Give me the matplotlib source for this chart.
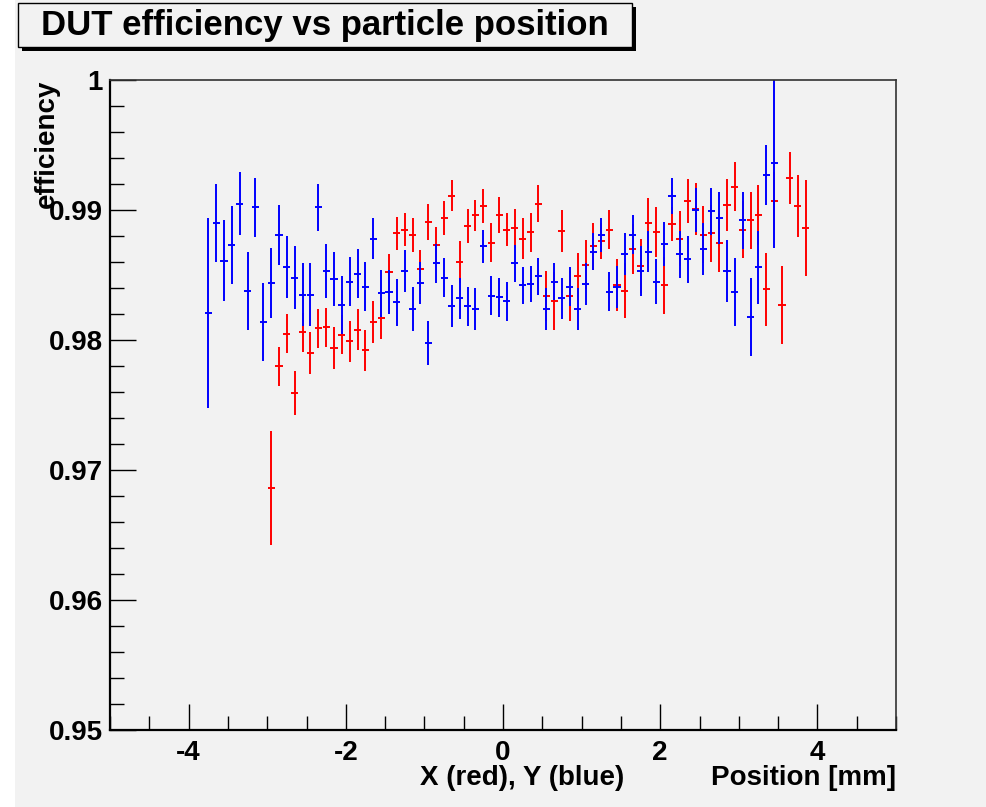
import numpy as np
import matplotlib
matplotlib.use("Agg")
from matplotlib import pyplot as plt
from matplotlib.patches import Rectangle
from matplotlib.ticker import MultipleLocator, FuncFormatter

# bin centres start (mm) and bin width
x_start_red = -2.95
x_start_blue = -3.75
bin_w = 0.1

# X (red) efficiency and errors
red_eff = [0.9686, 0.9780, 0.9805, 0.9759, 0.9806, 0.9790, 0.9809, 0.9810, 0.9794, 0.9804,
           0.9799, 0.9808, 0.9792, 0.9814, 0.9817, 0.9852, 0.9882, 0.9885, 0.9881, 0.9855,
           0.9891, 0.9873, 0.9894, 0.9911, 0.9860, 0.9888, 0.9896, 0.9903, 0.9875, 0.9896,
           0.9885, 0.9886, 0.9878, 0.9883, 0.9905, 0.9834, 0.9830, 0.9884, 0.9834, 0.9849,
           0.9858, 0.9872, 0.9876, 0.9885, 0.9842, 0.9838, 0.9870, 0.9857, 0.9890, 0.9883,
           0.9842, 0.9889, 0.9878, 0.9907, 0.9901, 0.9881, 0.9882, 0.9875, 0.9904, 0.9918,
           0.9885, 0.9892, 0.9896, 0.9839, 0.9907, 0.9827, 0.9925, 0.9903, 0.9886]
red_err = [0.0044, 0.0015, 0.0015, 0.0017, 0.0015, 0.0016, 0.0015, 0.0015, 0.0016, 0.0015,
           0.0016, 0.0016, 0.0016, 0.0016, 0.0016, 0.0014, 0.0013, 0.0013, 0.0013, 0.0014,
           0.0014, 0.0014, 0.0013, 0.0012, 0.0016, 0.0013, 0.0012, 0.0013, 0.0015, 0.0014,
           0.0013, 0.0015, 0.0016, 0.0015, 0.0014, 0.0019, 0.0022, 0.0016, 0.0019, 0.0018,
           0.0019, 0.0018, 0.0014, 0.0015, 0.0020, 0.0021, 0.0019, 0.0021, 0.0019, 0.0019,
           0.0022, 0.0013, 0.0021, 0.0017, 0.0020, 0.0022, 0.0022, 0.0023, 0.0020, 0.0019,
           0.0022, 0.0022, 0.0023, 0.0028, 0.0022, 0.0030, 0.0020, 0.0024, 0.0037]

# Y (blue) efficiency and errors
blue_eff = [0.9821, 0.9890, 0.9861, 0.9873, 0.9905, 0.9838, 0.9902, 0.9814, 0.9844, 0.9881,
            0.9856, 0.9848, 0.9835, 0.9835, 0.9902, 0.9853, 0.9847, 0.9827, 0.9845, 0.9851,
            0.9841, 0.9878, 0.9836, 0.9837, 0.9829, 0.9853, 0.9824, 0.9844, 0.9798, 0.9859,
            0.9848, 0.9826, 0.9832, 0.9826, 0.9824, 0.9872, 0.9834, 0.9833, 0.9830, 0.9859,
            0.9842, 0.9843, 0.9849, 0.9824, 0.9845, 0.9832, 0.9841, 0.9824, 0.9843, 0.9868,
            0.9881, 0.9837, 0.9841, 0.9866, 0.9881, 0.9853, 0.9868, 0.9845, 0.9874, 0.9911,
            0.9866, 0.9862, 0.9900, 0.9870, 0.9899, 0.9894, 0.9853, 0.9837, 0.9892, 0.9818,
            0.9856, 0.9927, 0.9936]
blue_err = [0.0073, 0.0030, 0.0031, 0.0030, 0.0024, 0.0030, 0.0023, 0.0030, 0.0027, 0.0023,
            0.0024, 0.0024, 0.0024, 0.0024, 0.0018, 0.0021, 0.0021, 0.0022, 0.0019, 0.0019,
            0.0019, 0.0016, 0.0018, 0.0017, 0.0018, 0.0016, 0.0017, 0.0016, 0.0017, 0.0015,
            0.0015, 0.0016, 0.0016, 0.0015, 0.0016, 0.0013, 0.0015, 0.0015, 0.0015, 0.0014,
            0.0014, 0.0014, 0.0014, 0.0016, 0.0014, 0.0016, 0.0015, 0.0016, 0.0016, 0.0014,
            0.0013, 0.0015, 0.0016, 0.0016, 0.0015, 0.0019, 0.0016, 0.0017, 0.0017, 0.0014,
            0.0018, 0.0018, 0.0017, 0.0020, 0.0018, 0.0020, 0.0024, 0.0026, 0.0022, 0.0030,
            0.0028, 0.0023, 0.0065]

x_red = x_start_red + bin_w * np.arange(len(red_eff))
x_blue = x_start_blue + bin_w * np.arange(len(blue_eff))

plt.rcParams['font.family'] = ['Liberation Sans', 'DejaVu Sans']
plt.rcParams['font.weight'] = 'bold'

W, H = 986, 807
bg = '#f2f2f2'
fig = plt.figure(figsize=(W / 100, H / 100), dpi=100, facecolor='white')
fig.patches.append(Rectangle((15 / W, 0), 1 - 15 / W, 1, transform=fig.transFigure,
                             facecolor=bg, edgecolor='none', zorder=0))

ax = fig.add_axes([110 / W, 1 - 730 / H, 786 / W, 650 / H])
ax.set_facecolor(bg)
ax.set_zorder(5)

ax.errorbar(x_red, red_eff, yerr=red_err, xerr=0.045, fmt='none', ecolor='#ff0000',
            elinewidth=1.4, capsize=0)
ax.errorbar(x_blue, blue_eff, yerr=blue_err, xerr=0.045, fmt='none', ecolor='#0000ff',
            elinewidth=1.4, capsize=0)

ax.set_xlim(-5, 5)
ax.set_ylim(0.95, 1.0)
ax.xaxis.set_major_locator(MultipleLocator(2))
ax.xaxis.set_minor_locator(MultipleLocator(0.5))
ax.yaxis.set_major_locator(MultipleLocator(0.01))
ax.yaxis.set_minor_locator(MultipleLocator(0.002))
fmt = FuncFormatter(lambda v, p: '%g' % round(v, 4))
ax.xaxis.set_major_formatter(fmt)
ax.yaxis.set_major_formatter(fmt)
ax.tick_params(which='major', direction='in', length=19, width=1, labelsize=20,
               top=False, right=False)
ax.tick_params(which='minor', direction='in', length=10, width=1, top=False, right=False)
ax.tick_params(axis='x', pad=7)
ax.tick_params(axis='y', pad=5)

for s in ['left', 'bottom']:
    ax.spines[s].set_linewidth(1.6)
    ax.spines[s].set_color('black')
for s in ['top', 'right']:
    ax.spines[s].set_linewidth(1.2)
    ax.spines[s].set_color('#333333')

# title box with shadow
fig.patches.append(Rectangle((22 / W, 1 - 51 / H), 614 / W, 44 / H, transform=fig.transFigure,
                             facecolor='black', edgecolor='none', zorder=1))
fig.patches.append(Rectangle((18 / W, 1 - 47 / H), 614 / W, 44 / H, transform=fig.transFigure,
                             facecolor=bg, edgecolor='black', linewidth=1, zorder=2))
fig.text(325 / W, 1 - 25 / H, 'DUT efficiency vs particle position', ha='center', va='center',
         fontsize=25, fontweight='bold', zorder=3)

fig.text(47 / W, 1 - 80 / H, 'efficiency', rotation=90, ha='center', va='top', fontsize=20,
         zorder=6)
fig.text(896 / W, 1 - 778 / H, 'Position [mm]', ha='right', va='center', fontsize=20)
fig.text(420 / W, 1 - 778 / H, 'X (red), Y (blue)', ha='left', va='center', fontsize=20)

fig.savefig('out.png', dpi=100, facecolor=fig.get_facecolor())
